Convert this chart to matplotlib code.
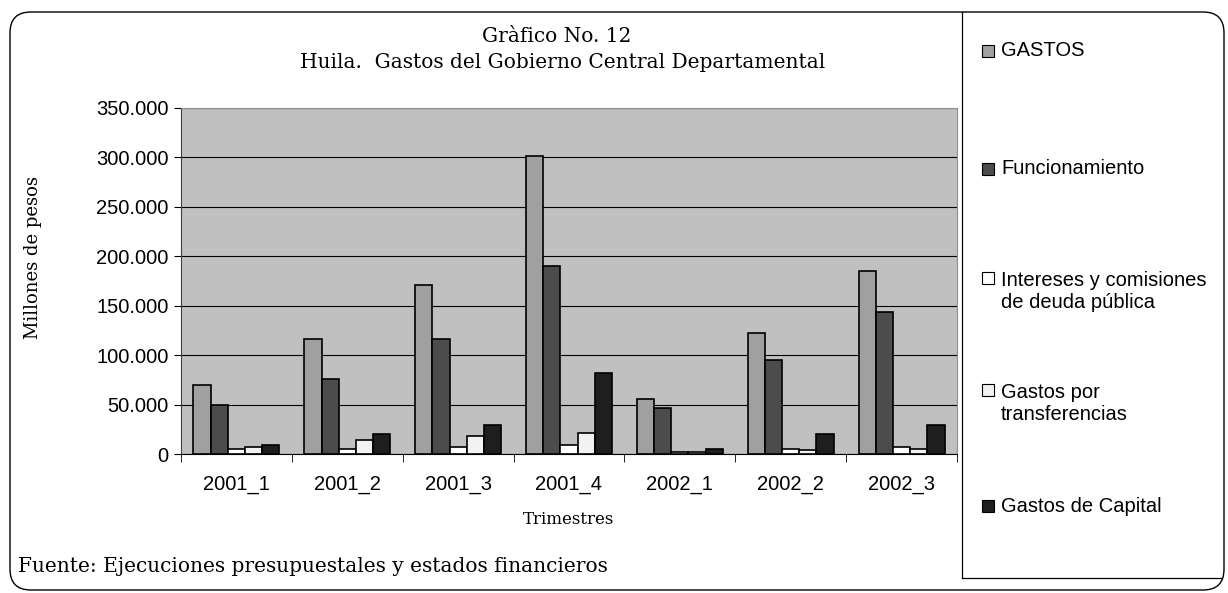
import numpy as np
import matplotlib
matplotlib.use("Agg")
import matplotlib.pyplot as plt
from matplotlib.patches import FancyBboxPatch, Rectangle

trimestres = ["2001_1", "2001_2", "2001_3", "2001_4", "2002_1", "2002_2", "2002_3"]
series = ["GASTOS", "Funcionamiento", "Intereses y comisiones\nde deuda pública",
          "Gastos por\ntransferencias", "Gastos de Capital"]
gastos = [70000, 116800, 170500, 301500, 55700, 121900, 185000]
funcionamiento = [50000, 75600, 116800, 190400, 46600, 95200, 143800]
intereses = [5400, 5400, 7400, 9100, 2000, 5400, 7100]
transferencias = [7400, 14500, 17900, 21600, 2000, 3700, 5400]
capital = [9100, 19900, 29000, 82400, 5400, 19900, 29000]
colores = ["#a0a0a0", "#4c4c4c", "#ffffff", "#f2f2f2", "#1e1e1e"]
yticks = [0, 50000, 100000, 150000, 200000, 250000, 300000, 350000]
ytick_labels = ["0", "50.000", "100.000", "150.000", "200.000", "250.000", "300.000", "350.000"]

W, H = 1228, 593
fig = plt.figure(figsize=(W / 100, H / 100), dpi=100)

def fx(px):
    return px / W

def fy(py):
    return 1 - py / H

# outer rounded frame and legend box
fig.patches.append(FancyBboxPatch((fx(10), fy(590)), fx(1214), (590 - 12) / H,
                                  boxstyle="round,pad=0,rounding_size=0.017",
                                  transform=fig.transFigure, fill=False,
                                  edgecolor="black", linewidth=1.0,
                                  mutation_aspect=W / H))
fig.add_artist(plt.Line2D([fx(962), fx(962)], [fy(12), fy(578)], color="black", lw=0.9))
fig.add_artist(plt.Line2D([fx(962), fx(1222)], [fy(578), fy(578)], color="black", lw=0.9))

ax = fig.add_axes([fx(181), fy(454), fx(957 - 181), (454 - 108) / H])
ax.set_facecolor("#c0c0c0")

data = [gastos, funcionamiento, intereses, transferencias, capital]
x = np.arange(len(trimestres))
bw = 0.155
for i, (vals, col) in enumerate(zip(data, colores)):
    ax.bar(x + (i - 2) * bw, vals, width=bw, color=col, edgecolor="black",
           linewidth=1.2, zorder=3)

ax.set_xlim(-0.5, len(trimestres) - 0.5)
ax.set_ylim(0, 350000)
ax.set_yticks(yticks)
ax.set_yticklabels(ytick_labels, fontsize=14.5, family="Liberation Sans")
ax.yaxis.grid(True, color="black", linewidth=0.8, zorder=1)
ax.set_axisbelow(True)
ax.set_xticks(x)
ax.set_xticklabels(trimestres, fontsize=14.5, family="Liberation Sans")
ax.set_xticks(np.arange(-0.5, len(trimestres), 1), minor=True)
ax.tick_params(axis="x", which="major", length=0, pad=15)
ax.tick_params(axis="x", which="minor", length=6, direction="out")
ax.tick_params(axis="y", length=5, direction="out", pad=4)
for s in ["top", "right"]:
    ax.spines[s].set_color("#909090")
ax.spines["left"].set_color("#404040")
ax.spines["bottom"].set_color("black")

serif = "DejaVu Serif"
fig.text(fx(557), fy(37), "Gràfico No. 12", ha="center", va="center", fontsize=14.5, family=serif)
fig.text(fx(563), fy(62), "Huila.  Gastos del Gobierno Central Departamental", ha="center",
         va="center", fontsize=14.5, family=serif)
fig.text(fx(33), fy(258), "Millones de pesos", rotation=90, ha="center", va="center",
         fontsize=13, family=serif)
fig.text(fx(569), fy(519), "Trimestres", ha="center", va="center", fontsize=12, family=serif)
fig.text(fx(18), fy(566), "Fuente: Ejecuciones presupuestales y estados financieros",
         ha="left", va="center", fontsize=14.5, family=serif)

# legend drawn by hand to keep the original spacing
leg_y = [51, 169, 292, 404, 506]
for lab, col, yy in zip(series, colores, leg_y):
    first_line = yy if "\n" not in lab else yy - 14
    fig.add_artist(Rectangle((fx(982), fy(first_line + 6)), fx(12), 12 / H,
                             transform=fig.transFigure, facecolor=col,
                             edgecolor="black", linewidth=0.8))
    fig.text(fx(1001), fy(yy), lab, ha="left", va="center", fontsize=14.5,
             family="Liberation Sans", linespacing=1.2)

fig.savefig("out.png", dpi=100)
